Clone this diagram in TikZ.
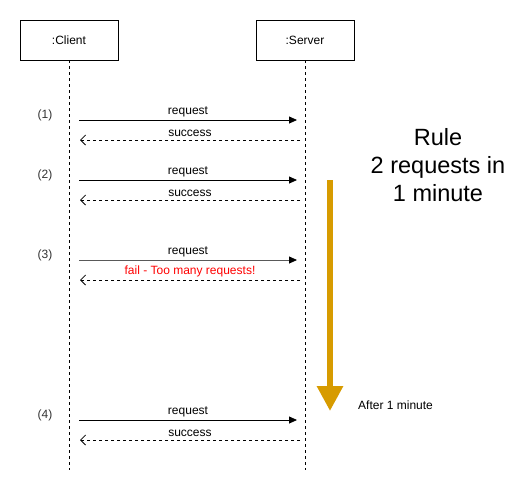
\documentclass[tikz,border=0pt]{standalone}
\usepackage{fontspec}
\setmainfont{Liberation Sans}
\usetikzlibrary{arrows.meta}
\definecolor{timeorange}{HTML}{D79B00}
\definecolor{failred}{HTML}{FF0000}
\tikzset{
  actor/.style={draw, line width=0.8pt, minimum width=98pt, minimum height=40pt, inner sep=0pt, font=\fontsize{12pt}{14pt}\selectfont},
  lifeline/.style={line width=0.8pt, dash pattern=on 3pt off 3pt},
  call/.style={line width=0.8pt, -{Triangle[length=8pt,width=7pt,color=black]}},
  reply/.style={line width=0.8pt, dash pattern=on 3pt off 3pt, -{Straight Barb[length=5pt,width=10pt]}},
  msg/.style={font=\fontsize{12pt}{14pt}\selectfont, inner sep=0pt},
  stepnum/.style={font=\fontsize{12pt}{14pt}\selectfont, text=black!80, inner sep=0pt}
}
\begin{document}
\begin{tikzpicture}[x=1pt, y=-1pt]
  \useasboundingbox (0,0) rectangle (531,491);
  % participants
  \node[actor] (client) at (69,40) {:Client};
  \node[actor] (server) at (305,40) {:Server};
  \coordinate (clientend) at (69,470);
  \coordinate (serverend) at (305,470);
  \draw[lifeline] (client.south) -- (clientend);
  \draw[lifeline] (server.south) -- (serverend);
  % (1)
  \node[stepnum] (n1) at (45,115) {(1)};
  \coordinate (c1a) at (79,120); \coordinate (s1a) at (297,120);
  \coordinate (c1b) at (80,140); \coordinate (s1b) at (300,140);
  \draw[call] (c1a) -- node[msg, above=3pt] (req1) {request} (s1a);
  \draw[reply] (s1b) -- node[msg, above=3pt] (ok1) {success} (c1b);
  % (2)
  \node[stepnum] (n2) at (45,175) {(2)};
  \coordinate (c2a) at (79,180); \coordinate (s2a) at (297,180);
  \coordinate (c2b) at (80,200); \coordinate (s2b) at (300,200);
  \draw[call] (c2a) -- node[msg, above=3pt] (req2) {request} (s2a);
  \draw[reply] (s2b) -- node[msg, above=3pt] (ok2) {success} (c2b);
  % (3)
  \node[stepnum] (n3) at (45,255) {(3)};
  \coordinate (c3a) at (79,260); \coordinate (s3a) at (297,260);
  \coordinate (c3b) at (80,280); \coordinate (s3b) at (300,280);
  \draw[call, draw=black!65] (c3a) -- node[msg, above=3pt] (req3) {request} (s3a);
  \draw[reply] (s3b) -- node[msg, above=3pt, text=failred] (fail3) {fail - Too many requests!} (c3b);
  % (4)
  \node[stepnum] (n4) at (45,415) {(4)};
  \coordinate (c4a) at (79,420); \coordinate (s4a) at (297,420);
  \coordinate (c4b) at (80,440); \coordinate (s4b) at (300,440);
  \draw[call] (c4a) -- node[msg, above=3pt] (req4) {request} (s4a);
  \draw[reply] (s4b) -- node[msg, above=3pt] (ok4) {success} (c4b);
  % rate limit window
  \coordinate (wintop) at (330,180);
  \coordinate (winend) at (330,411);
  \draw[timeorange, line width=6pt, -{Triangle[length=25pt,width=25pt]}] (wintop) -- (winend);
  \node[msg, anchor=west] (after) at (358,405) {After 1 minute};
  \node[align=center, font=\fontsize{23.5pt}{28pt}\selectfont, inner sep=0pt] (rule) at (438,165) {Rule\\2 requests in\\1 minute};
\end{tikzpicture}
\end{document}
